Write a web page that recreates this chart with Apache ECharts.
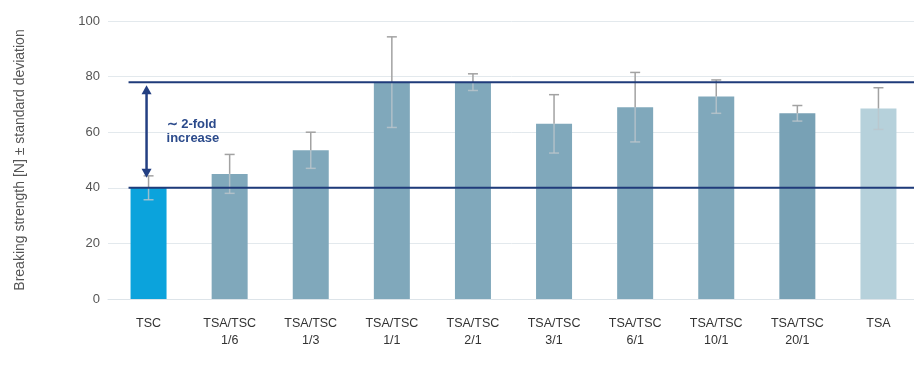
<!DOCTYPE html>
<html>
<head>
<meta charset="utf-8">
<script src="https://cdn.jsdelivr.net/npm/echarts@6/dist/echarts.min.js"></script>
<style>
  html, body { margin: 0; padding: 0; background: #ffffff; }
  #chart { width: 914px; height: 369px; }
</style>
</head>
<body>
<div id="chart"></div>
<script>
// Breaking strength of TSC, TSA and TSA/TSC blends (mean ± SD)
const categories = [
  'TSC', 'TSA/TSC\n1/6', 'TSA/TSC\n1/3', 'TSA/TSC\n1/1', 'TSA/TSC\n2/1',
  'TSA/TSC\n3/1', 'TSA/TSC\n6/1', 'TSA/TSC\n10/1', 'TSA/TSC\n20/1', 'TSA'
];
const means = [40, 45, 53.5, 78, 78, 63, 69, 72.8, 66.8, 68.5];
const sds = [4.3, 7, 6.5, 16.3, 3, 10.5, 12.5, 6, 2.8, 7.5];
const barColors = [
  '#0ba3dc', '#80a8bb', '#80a8bb', '#80a8bb', '#80a8bb',
  '#80a8bb', '#80a8bb', '#80a8bb', '#78a1b5', '#b6d1db'
];
// horizontal reference levels: TSC baseline and best blend
const refLevels = [40, 78];
const foldLabel = '∼ 2-fold\nincrease';
const yTicks = { min: 0, max: 100, interval: 20 };

const navy = '#1f3b7a';
const font = 'Liberation Sans, Arial, sans-serif';
const chart = echarts.init(document.getElementById('chart'));

chart.setOption({
  animation: false,
  grid: { left: 108, top: 21, width: 811, height: 278, outerBoundsMode: 'none', containLabel: false },
  xAxis: {
    type: 'category',
    data: categories,
    axisLine: { show: true, lineStyle: { color: '#dde4e9', width: 1 } },
    axisTick: { show: false },
    axisLabel: { color: '#333', fontSize: 12.5, lineHeight: 17, margin: 16, fontFamily: font }
  },
  yAxis: {
    type: 'value',
    min: yTicks.min, max: yTicks.max, interval: yTicks.interval,
    name: 'Breaking strength [N] ± standard deviation',
    nameLocation: 'middle',
    nameGap: 81,
    nameTextStyle: { color: '#555', fontSize: 14, fontFamily: font },
    axisLine: { show: false },
    axisTick: { show: false },
    splitLine: { lineStyle: { color: '#e3e9ed', width: 1 } },
    axisLabel: { color: '#555', fontSize: 13, margin: 8, fontFamily: font }
  },
  series: [
    {
      type: 'bar',
      barWidth: 36,
      data: means.map((v, i) => ({ value: v, itemStyle: { color: barColors[i] } })),
      z: 2
    },
    {
      // standard deviation whiskers
      type: 'custom',
      z: 3,
      data: means.map((v, i) => [i, v, sds[i]]),
      renderItem: function (params, api) {
        const i = api.value(0), m = api.value(1), sd = api.value(2);
        const top = api.coord([i, m + sd]);
        const mid = api.coord([i, m]);
        const bot = api.coord([i, m - sd]);
        const x = top[0], hw = 5;
        const solid = { stroke: '#a2a2a2', lineWidth: 1.5 };
        const faint = { stroke: '#bcc6cc', lineWidth: 1.5, opacity: 0.8 };
        return {
          type: 'group',
          children: [
            { type: 'line', shape: { x1: x, y1: top[1], x2: x, y2: mid[1] }, style: solid },
            { type: 'line', shape: { x1: x - hw, y1: top[1], x2: x + hw, y2: top[1] }, style: solid },
            { type: 'line', shape: { x1: x, y1: mid[1], x2: x, y2: bot[1] }, style: faint },
            { type: 'line', shape: { x1: x - hw, y1: bot[1], x2: x + hw, y2: bot[1] }, style: faint }
          ]
        };
      }
    },
    {
      // reference levels
      type: 'custom',
      z: 4,
      data: refLevels.map(v => [0, v]),
      renderItem: function (params, api) {
        const p = api.coord([api.value(0), api.value(1)]);
        const right = params.coordSys.x + params.coordSys.width;
        return {
          type: 'line',
          shape: { x1: p[0] - 20, y1: p[1], x2: right, y2: p[1] },
          style: { stroke: navy, lineWidth: 2 }
        };
      }
    },
    {
      // double arrow with fold-change note
      type: 'custom',
      z: 5,
      data: [[0, refLevels[0], refLevels[1]]],
      renderItem: function (params, api) {
        const lo = api.coord([api.value(0), api.value(1)]);
        const hi = api.coord([api.value(0), api.value(2)]);
        const x = lo[0] - 2;
        const y1 = hi[1] + 3, y2 = lo[1] - 10;
        const hw = 5, hh = 9;
        const col = '#233f82';
        return {
          type: 'group',
          children: [
            { type: 'line', shape: { x1: x, y1: y1 + hh - 1, x2: x, y2: y2 - hh + 1 }, style: { stroke: col, lineWidth: 2.5 } },
            { type: 'polygon', shape: { points: [[x, y1], [x - hw, y1 + hh], [x + hw, y1 + hh]] }, style: { fill: col } },
            { type: 'polygon', shape: { points: [[x, y2], [x - hw, y2 - hh], [x + hw, y2 - hh]] }, style: { fill: col } },
            {
              type: 'text',
              x: x + 20,
              y: (hi[1] + lo[1]) / 2 - 4,
              style: {
                text: foldLabel,
                fill: '#2b4a8b',
                fontSize: 13,
                fontWeight: 'bold',
                lineHeight: 14,
                fontFamily: font,
                verticalAlign: 'middle',
                align: 'left'
              }
            }
          ]
        };
      }
    }
  ]
});
</script>
</body>
</html>
